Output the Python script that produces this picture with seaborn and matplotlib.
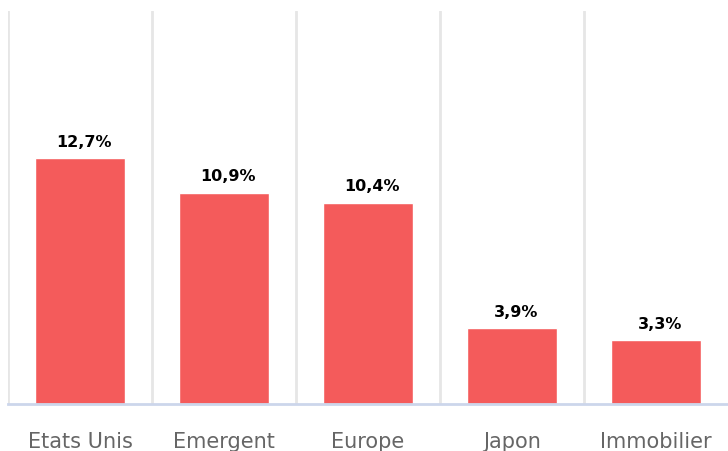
import pandas as pd
import numpy as np
import matplotlib.pyplot as plt
import seaborn as sns

# Data
categories = ["Etats Unis", "Emergent", "Europe", "Japon", "Immobilier"]
values = [12.7, 10.9, 10.4, 3.9, 3.3]
value_labels = ["12,7%", "10,9%", "10,4%", "3,9%", "3,3%"]

df = pd.DataFrame({"categorie": categories, "valeur": values})

sns.set_style("white")
plt.rcParams['font.family'] = ['DejaVu Sans']

fig = plt.figure(figsize=(7.28, 4.51), dpi=100)
ax = fig.add_axes([8 / 728, 47 / 451, 720 / 728, 393 / 451])

sns.barplot(data=df, x="categorie", y="valeur", color="#f45b5b", saturation=1,
            width=0.63, ax=ax, zorder=3)

# Vertical grid lines at category boundaries
for b in np.arange(-0.5, len(categories) - 1, 1.0):
    ax.axvline(b, color="#e6e6e6", linewidth=2, zorder=1)

ax.set_xlim(-0.5, len(categories) - 0.5)
ax.set_ylim(0, 20.3)

# Value labels
for i, (v, lab) in enumerate(zip(values, value_labels)):
    ax.annotate(lab, (i, v), xytext=(4, 16), textcoords="offset pixels",
                ha="center", va="center", fontsize=11.5, fontweight="bold",
                color="black")

for s in ["top", "right", "left"]:
    ax.spines[s].set_visible(False)
ax.spines["bottom"].set_color("#ccd6eb")
ax.spines["bottom"].set_linewidth(2)
ax.spines["bottom"].set_zorder(4)

ax.set_yticks([])
ax.set_xlabel("")
ax.set_ylabel("")
ax.tick_params(axis="x", length=0, pad=20.5, labelsize=15, labelcolor="#666666")

fig.savefig("out.png", dpi=100)
